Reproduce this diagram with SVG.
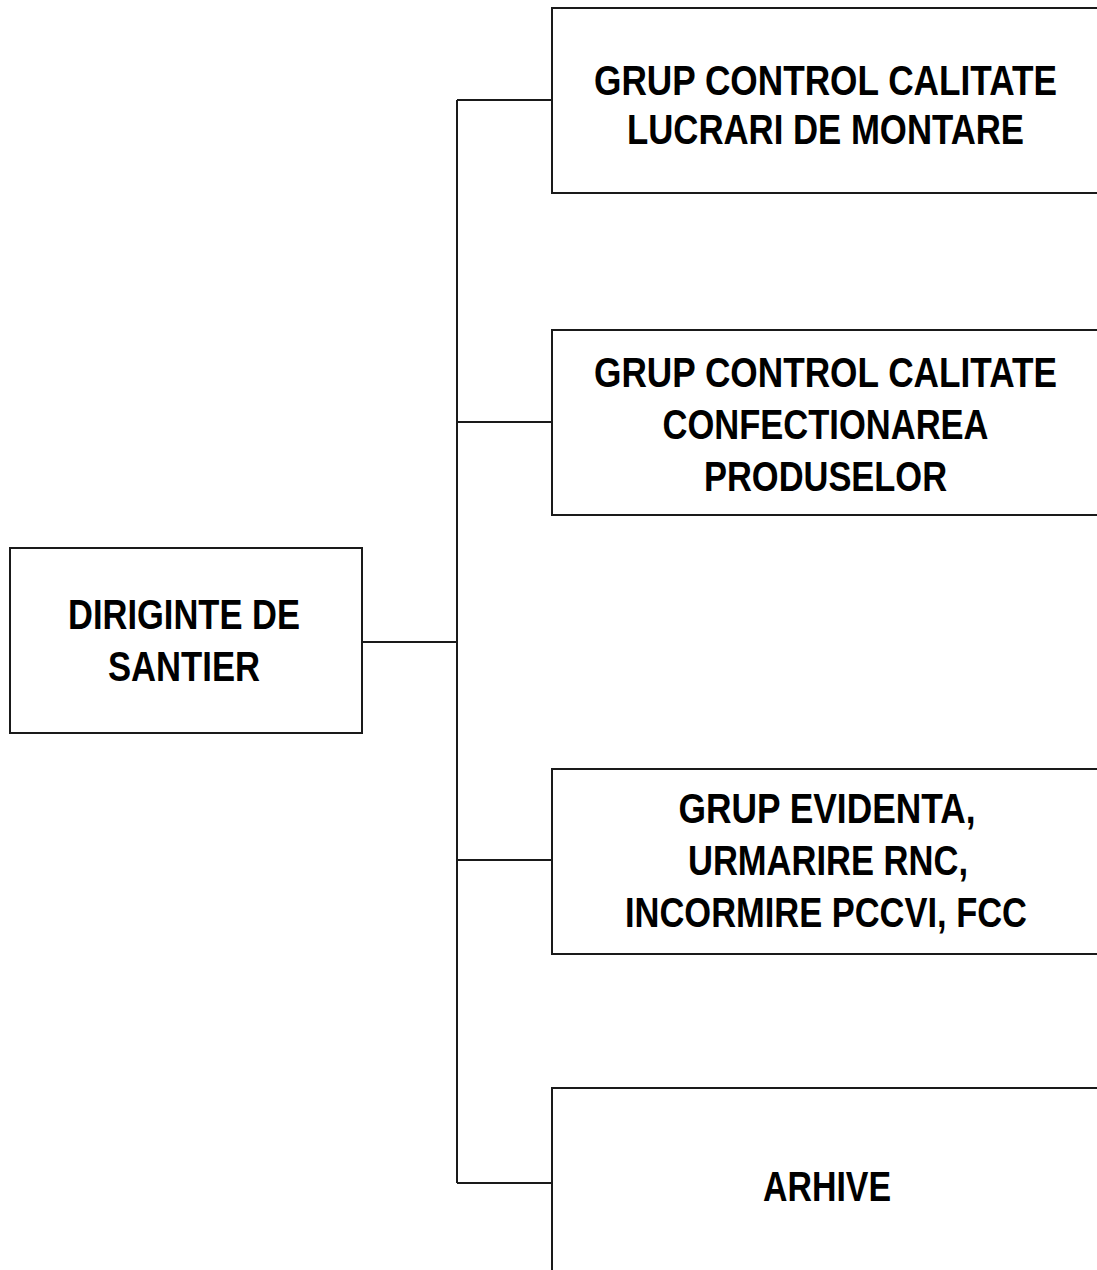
<svg xmlns="http://www.w3.org/2000/svg" width="1097" height="1270" viewBox="0 0 1097 1270">
<style>
.box{fill:#fff;stroke:#1a1a1a;stroke-width:2}
.ln{fill:none;stroke:#1a1a1a;stroke-width:2}
text{font-family:"Liberation Sans",Arial,sans-serif;font-weight:bold;font-size:35px;fill:#000;text-anchor:middle}
</style>
<rect width="1097" height="1270" fill="#fff"/>
<g id="connectors">
<path class="ln" d="M362 642H457M457 100V1183M457 100H552M457 422H552M457 860H552M457 1183H552"/>
</g>
<g id="n-diriginte">
<rect class="box" x="10" y="548" width="352" height="185"/>
<text transform="translate(184,629) scale(1,1.2)" textLength="232" lengthAdjust="spacingAndGlyphs">DIRIGINTE DE</text>
<text transform="translate(184,681) scale(1,1.2)" textLength="152" lengthAdjust="spacingAndGlyphs">SANTIER</text>
</g>
<g id="n-montare">
<rect class="box" x="552" y="8" width="560" height="185"/>
<text transform="translate(825.5,95) scale(1,1.2)" textLength="463" lengthAdjust="spacingAndGlyphs">GRUP CONTROL CALITATE</text>
<text transform="translate(825.5,144) scale(1,1.2)" textLength="397" lengthAdjust="spacingAndGlyphs">LUCRARI DE MONTARE</text>
</g>
<g id="n-confectionare">
<rect class="box" x="552" y="330" width="560" height="185"/>
<text transform="translate(825.5,387) scale(1,1.2)" textLength="463" lengthAdjust="spacingAndGlyphs">GRUP CONTROL CALITATE</text>
<text transform="translate(825.5,439) scale(1,1.2)" textLength="326" lengthAdjust="spacingAndGlyphs">CONFECTIONAREA</text>
<text transform="translate(825.5,491) scale(1,1.2)" textLength="243" lengthAdjust="spacingAndGlyphs">PRODUSELOR</text>
</g>
<g id="n-evidenta">
<rect class="box" x="552" y="769" width="560" height="185"/>
<text transform="translate(827,823) scale(1,1.2)" textLength="297" lengthAdjust="spacingAndGlyphs">GRUP EVIDENTA,</text>
<text transform="translate(828,875) scale(1,1.2)" textLength="280" lengthAdjust="spacingAndGlyphs">URMARIRE RNC,</text>
<text transform="translate(826,927) scale(1,1.2)" textLength="402" lengthAdjust="spacingAndGlyphs">INCORMIRE PCCVI, FCC</text>
</g>
<g id="n-arhive">
<rect class="box" x="552" y="1088" width="560" height="200"/>
<text transform="translate(827,1201) scale(1,1.2)" textLength="128" lengthAdjust="spacingAndGlyphs">ARHIVE</text>
</g>
</svg>
